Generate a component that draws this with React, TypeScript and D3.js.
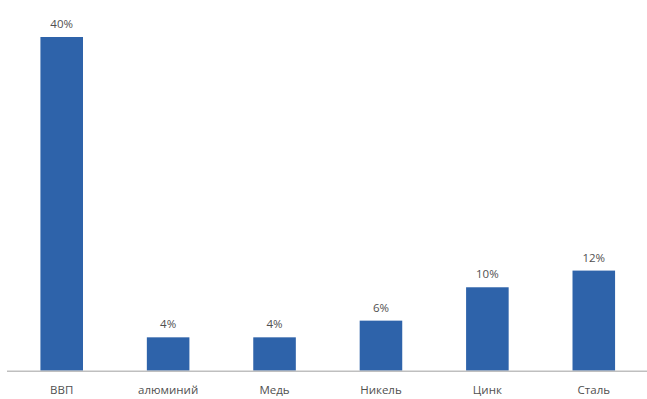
import React from "react";
import * as d3 from "d3";

const categories = ["ВВП", "алюминий", "Медь", "Никель", "Цинк", "Сталь"];
const values = [40, 4, 4, 6, 10, 12];

const W = 647;
const H = 399;

export default function App() {
  React.useEffect(() => {
    document.body.style.margin = "0";
  }, []);
  const x = d3.scaleBand<string>().domain(categories).range([8.5, 647]).paddingInner(0.6).paddingOuter(0.3);
  const y = d3.scaleLinear().domain([0, 40]).range([370.7, 37]);
  const font = "'Open Sans', 'Liberation Sans', sans-serif";
  return (
    <svg width={W} height={H} style={{ position: "absolute", left: 0, top: 0, background: "#fff" }}>
      {categories.map((c, i) => (
        <g key={c}>
          <rect x={x(c)!} y={y(values[i])} width={x.bandwidth()} height={y(0) - y(values[i])} fill="#2e63aa" />
          <text
            x={x(c)! + x.bandwidth() / 2}
            y={y(values[i]) - 9}
            textAnchor="middle"
            fontFamily={font}
            fontSize={11.5}
            fill="#505050"
          >
            {values[i]}%
          </text>
          <text
            x={x(c)! + x.bandwidth() / 2}
            y={394}
            textAnchor="middle"
            fontFamily={font}
            fontSize={11.5}
            fill="#505050"
          >
            {c}
          </text>
        </g>
      ))}
      <line x1={7} x2={647} y1={y(0) + 0.5} y2={y(0) + 0.5} stroke="#bfbfbf" strokeWidth={1.5} />
    </svg>
  );
}
